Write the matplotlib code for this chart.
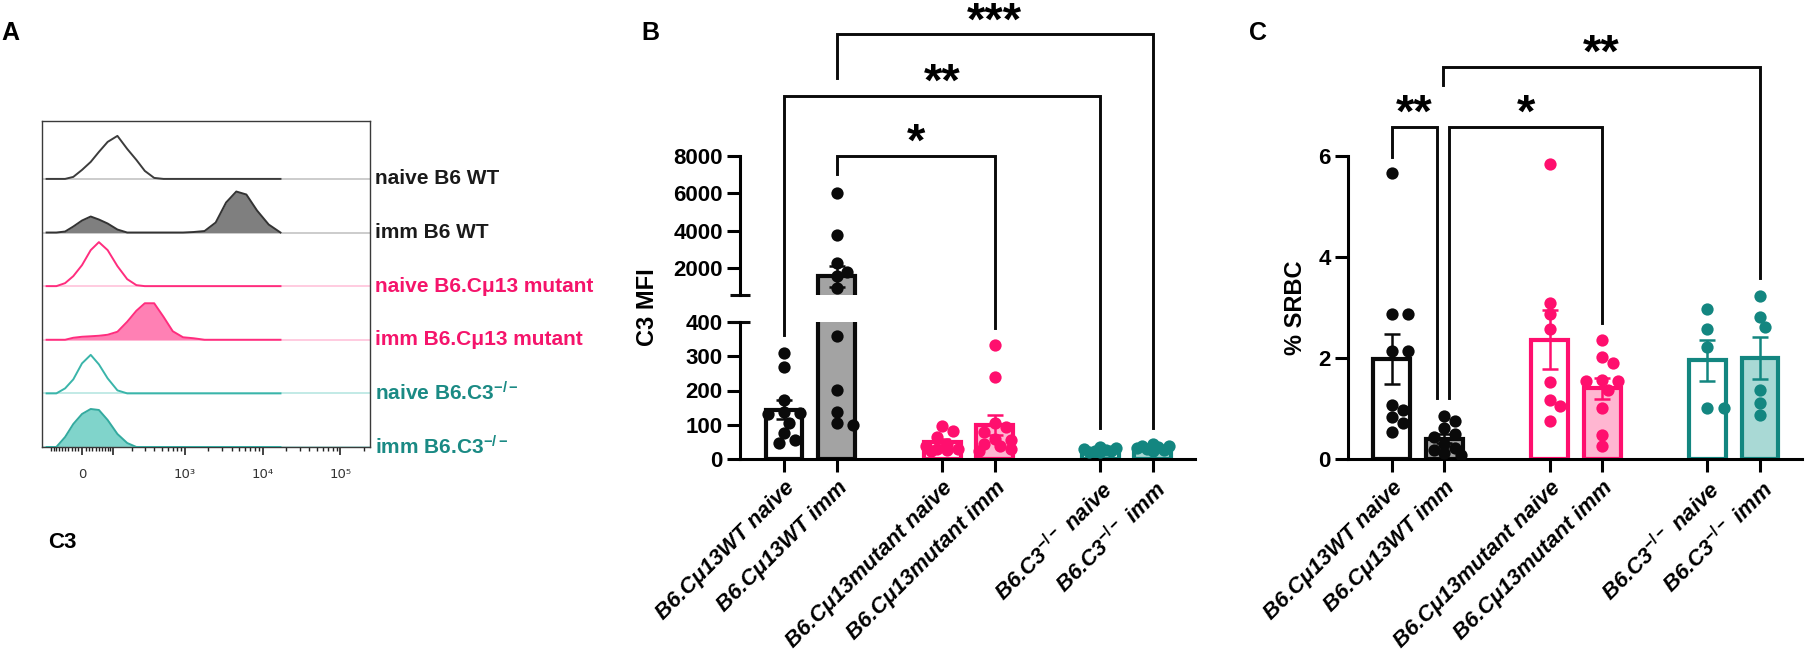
import numpy as np
import matplotlib
matplotlib.use('Agg')
import matplotlib.pyplot as plt
from matplotlib.ticker import FixedLocator

plt.rcParams['font.family'] = ['Liberation Sans', 'DejaVu Sans']
plt.rcParams['font.weight'] = 'bold'
plt.rcParams['mathtext.fontset'] = 'custom'
plt.rcParams['mathtext.rm'] = 'Liberation Sans:bold'
plt.rcParams['mathtext.it'] = 'Liberation Sans:italic:bold'
plt.rcParams['mathtext.bf'] = 'Liberation Sans:bold'

# ---------------- data ----------------
# panel A: flow histograms, C3 intensity bins and counts per sample
hist_bins = [-120, -80, -50, -25, 0, 25, 50, 80, 120, 170, 230, 300, 400, 530,
             700, 950, 1300, 1800, 2500, 3400, 4600, 6200, 8500, 12000, 17000]
cnt_naive_wt = [0, 0, 0, 2, 9, 17, 27, 37, 43, 30, 19, 8, 1, 0,
                0, 0, 0, 0, 0, 0, 0, 0, 0, 0, 0]
cnt_imm_wt = [0, 0, 1, 6, 12, 16, 13, 9, 3, 0, 0, 0, 0, 0,
              0, 0, 0.5, 1.5, 10, 30, 41, 38, 22, 8, 0]
cnt_naive_mut = [0, 0, 3, 10, 21, 36, 44, 36, 20, 7, 1, 0, 0, 0,
                 0, 0, 0, 0, 0, 0, 0, 0, 0, 0, 0]
cnt_imm_mut = [0, 0, 0, 2, 3, 3.5, 4, 5, 8, 18, 29, 36.5, 36.5, 23,
               8.5, 2.5, 1.5, 0, 0, 0, 0, 0, 0, 0, 0]
cnt_naive_c3 = [0, 0, 5, 14, 30, 38.5, 29, 15, 3, 0, 0, 0, 0, 0,
                0, 0, 0, 0, 0, 0, 0, 0, 0, 0, 0]
cnt_imm_c3 = [0, 0, 10, 23, 33, 38, 37, 27, 13, 4, 0, 0, 0, 0,
              0, 0, 0, 0, 0, 0, 0, 0, 0, 0, 0]
hist_names = ['naive B6 WT', 'imm B6 WT', 'naive B6.Cμ13 mutant',
              'imm B6.Cμ13 mutant', r'naive B6.C3$^{\mathrm{-/-}}$',
              r'imm B6.C3$^{\mathrm{-/-}}$']

# panels B, C
groups = ['B6.Cμ13WT naive', 'B6.Cμ13WT imm', 'B6.Cμ13mutant naive',
          'B6.Cμ13mutant imm', r'B6.C3$^{\mathit{-/-}}$ naive',
          r'B6.C3$^{\mathit{-/-}}$ imm']
group_x = [0, 1, 3, 4, 6, 7]

mfi_wt_naive = [310, 268, 172, 137, 135, 133, 105, 76, 55, 48]
mfi_wt_imm = [6040, 3770, 2270, 1820, 1590, 940, 358, 201, 138, 105, 100]
mfi_mut_naive = [97, 82, 65, 45, 40, 30, 30, 28, 25]
mfi_mut_imm = [332, 240, 105, 95, 80, 60, 55, 45, 40, 30, 25]
mfi_c3_naive = [35, 32, 30, 28, 25, 24, 22, 20]
mfi_c3_imm = [45, 40, 38, 35, 32, 30, 28, 25]

srbc_wt_naive = [5.65, 2.87, 2.87, 2.14, 2.14, 1.07, 0.97, 0.84, 0.71, 0.54]
srbc_wt_imm = [0.85, 0.75, 0.62, 0.50, 0.45, 0.30, 0.22, 0.18, 0.12, 0.08]
srbc_mut_naive = [5.83, 3.09, 2.87, 2.58, 1.53, 1.18, 1.05, 0.76]
srbc_mut_imm = [2.35, 2.02, 1.90, 1.57, 1.55, 1.54, 1.36, 1.02, 0.48, 0.26]
srbc_c3_naive = [2.97, 2.58, 2.22, 1.02, 1.01]
srbc_c3_imm = [3.23, 2.81, 2.61, 1.36, 1.11, 0.88]

# significance brackets: (x1, x2, top, leg1 bottom, leg2 bottom, stars)
brackets_b = [(1, 4, 882, 829, 382, '*'),
              (0, 6, 1057, 361, 91, '**'),
              (1, 7, 1235, 1108, 91, '***')]
brackets_c = [(0, 0.86, 6.57, 5.98, 1.21, '**'),
              (1.09, 4.0, 6.57, 1.21, 2.70, '*'),
              (0.98, 7.0, 7.76, 7.40, 3.58, '**')]

# ---------------- styles ----------------
BLACK = '#0a0a0a'
GRAY = '#a3a3a3'
PINK = '#ff0f6e'
PINK_L = '#ffb6d1'
TEAL = '#138680'
TEAL_L = '#a9d9d5'
edge_cols = [BLACK, BLACK, PINK, PINK, TEAL, TEAL]
fill_cols = ['white', GRAY, 'white', PINK_L, 'white', TEAL_L]
label_cols = ['#1a1a1a', '#1a1a1a', '#f5146b', '#f5146b', '#1a8a84', '#1a8a84']
hist_line = ['#3c3c3c', '#333333', '#ff2d7e', '#ff2d7e', '#3ab5aa', '#33aa9f']
hist_fill = [None, '#7f7f7f', None, '#ff80b4', None, '#80d4cb']
hist_base = ['#c4c4c4', '#c4c4c4', '#ffc2da', '#ffc2da', '#b7e6e1', '#b7e6e1']

W, H = 1809, 662
fig = plt.figure(figsize=(W / 100, H / 100), dpi=100)


def px_axes(x0, y0, x1, y1):
    ax = fig.add_axes([x0 / W, 1 - y1 / H, (x1 - x0) / W, (y1 - y0) / H])
    ax.patch.set_visible(False)
    return ax


# ---------------- panel A ----------------
axA = px_axes(42, 121, 370, 447)
axA.set_xscale('asinh', linear_width=96)
axA.set_xlim(-142, 2.4e5)
axA.set_ylim(0, 6.08)
row_px = 53.6
counts_all = [cnt_naive_wt, cnt_imm_wt, cnt_naive_mut, cnt_imm_mut,
              cnt_naive_c3, cnt_imm_c3]
for i, cnt in enumerate(counts_all):
    off = 5 - i
    yy = off + np.array(cnt) / row_px
    axA.axhline(off, color=hist_base[i], lw=1.2, zorder=1)
    if hist_fill[i]:
        axA.fill_between(hist_bins, off, yy, color=hist_fill[i], lw=0, zorder=2)
    axA.plot(hist_bins, yy, color=hist_line[i], lw=1.4, zorder=3)
    axA.text(1.015, off, hist_names[i], transform=axA.get_yaxis_transform(),
             va='center', ha='left', fontsize=15, color=label_cols[i])
for s in axA.spines.values():
    s.set_color('#3a3a3a')
    s.set_linewidth(1.0)
axA.set_yticks([])
axA.set_xticks([0, 1e2, 1e3, 1e4, 1e5])
axA.set_xticklabels(['0', '', '10³', '10⁴', '10⁵'], fontsize=9.5,
                    fontweight='normal', color='#333333', family='DejaVu Sans')
minors = ([-v for v in range(10, 110, 10)] + list(range(10, 100, 10)) +
          list(range(200, 1000, 100)) + list(range(2000, 10000, 1000)) +
          list(range(20000, 100000, 10000)) + [2e5])
axA.xaxis.set_minor_locator(FixedLocator(minors))
axA.tick_params(axis='x', which='major', length=6, width=1.2, color='#222222', pad=9)
axA.tick_params(axis='x', which='minor', length=3, width=1.0, color='#222222')
fig.text(48 / W, 1 - 542 / H, 'C3', ha='left', va='center', fontsize=16)

# ---------------- helpers for B and C ----------------
UNIT_PX = 52.7


def swarm(ax_for, vals, diam=12.0, max_px=16.5):
    # column scatter: touching points are pushed sideways, never wider than the bar
    placed = []
    offs = []
    step = diam * 0.45
    cands = [0]
    for j in range(1, 6):
        cands += [j, -j]
    for v in vals:
        yp = ax_for(v).transData.transform((0, v))[1]
        best, best_d = 0.0, -1.0
        for c in cands:
            xo = c * step
            if abs(xo) > max_px:
                continue
            dmin = min([np.hypot(xo - a, yp - b) for a, b in placed] + [1e9])
            if dmin >= diam * 0.92:
                best = xo
                break
            if dmin > best_d:
                best_d, best = dmin, xo
        placed.append((best, yp))
        offs.append(best / UNIT_PX)
    return np.array(offs)


def style_axis(ax, xaxis=True):
    for k in ['top', 'right']:
        ax.spines[k].set_visible(False)
    ax.spines['left'].set_linewidth(2.2)
    ax.spines['bottom'].set_linewidth(2.2)
    ax.tick_params(axis='y', length=9.5, width=2.2, labelsize=16, pad=3)
    ax.tick_params(axis='x', length=9, width=2.2, labelsize=16, pad=4)
    if not xaxis:
        ax.spines['bottom'].set_visible(False)
        ax.tick_params(axis='x', length=0, labelbottom=False)


def draw_groups(axes, data, ax_for):
    for k, vals in enumerate(data):
        vals = np.array(vals, dtype=float)
        m = vals.mean()
        sem = vals.std(ddof=1) / np.sqrt(len(vals))
        offs = swarm(ax_for, vals)
        for ax in axes:
            lo, hi = ax.get_ylim()
            if m > lo:
                ax.bar(group_x[k], m, width=0.70, color=fill_cols[k],
                       edgecolor=edge_cols[k], linewidth=3, zorder=2)
            keep = np.array([ax_for(v) is ax for v in vals])
            if keep.any():
                ax.scatter(group_x[k] + offs[keep], vals[keep], s=78,
                           color=edge_cols[k], linewidths=0, zorder=3)
        ax_for(m).errorbar(group_x[k], m, yerr=sem, fmt='none', ecolor=edge_cols[k],
                           elinewidth=1.8, capsize=6, capthick=1.8, zorder=4)


# overlay covering the whole figure, in pixels, for the brackets
ov = fig.add_axes([0, 0, 1, 1], zorder=10)
ov.set_xlim(0, W)
ov.set_ylim(0, H)
ov.axis('off')
ov.patch.set_visible(False)


def draw_brackets(ax, brs, fs=34):
    for x1, x2, top, b1, b2, txt in brs:
        pts = ax.transData.transform([(x1, b1), (x1, top), (x2, top), (x2, b2)])
        pts = ov.transData.inverted().transform(pts)
        ov.plot(pts[:, 0], pts[:, 1], color=BLACK, lw=2.1, clip_on=False,
                solid_joinstyle='miter')
        xm = (pts[1, 0] + pts[2, 0]) / 2
        ov.text(xm, pts[1, 1], txt, ha='center', va='baseline', fontsize=fs,
                clip_on=False)


XL = (-0.835, 7.8)

# ---------------- panel B ----------------
axB_lo = px_axes(740, 321.7, 1195, 459.3)
axB_hi = px_axes(740, 156, 1195, 294.7)
axB_lo.set_xlim(*XL)
axB_hi.set_xlim(*XL)
axB_lo.set_ylim(0, 400)
axB_hi.set_ylim(600, 8000)
style_axis(axB_lo)
style_axis(axB_hi, xaxis=False)
axB_lo.set_yticks([0, 100, 200, 300, 400])
axB_hi.set_yticks([2000, 4000, 6000, 8000])
axB_hi.spines['left'].set_bounds(600, 8000)
cap = 10 / UNIT_PX
axB_hi.plot([XL[0] - cap, XL[0] + cap], [600, 600], color=BLACK, lw=2.2,
            clip_on=False, solid_capstyle='butt')
axB_lo.plot([XL[0] - cap, XL[0] + cap], [400, 400], color=BLACK, lw=2.2,
            clip_on=False, solid_capstyle='butt')
axB_lo.set_xticks(group_x)
axB_lo.set_xticklabels(groups, rotation=45, ha='right', va='top',
                       rotation_mode='anchor', fontstyle='italic')
mfi = [mfi_wt_naive, mfi_wt_imm, mfi_mut_naive, mfi_mut_imm, mfi_c3_naive, mfi_c3_imm]
draw_groups([axB_lo, axB_hi], mfi, lambda v: axB_hi if v > 400 else axB_lo)
draw_brackets(axB_lo, brackets_b)
fig.text(647 / W, 1 - 307 / H, 'C3 MFI', rotation=90, ha='center', va='center',
         fontsize=17)

# ---------------- panel C ----------------
axC = px_axes(1348, 155.7, 1802, 459.3)
axC.set_xlim(*XL)
axC.set_ylim(0, 6)
style_axis(axC)
axC.set_yticks([0, 2, 4, 6])
axC.set_xticks(group_x)
axC.set_xticklabels(groups, rotation=45, ha='right', va='top',
                    rotation_mode='anchor', fontstyle='italic')
srbc = [srbc_wt_naive, srbc_wt_imm, srbc_mut_naive, srbc_mut_imm,
        srbc_c3_naive, srbc_c3_imm]
draw_groups([axC], srbc, lambda v: axC)
draw_brackets(axC, brackets_c)
fig.text(1295 / W, 1 - 307.5 / H, '% SRBC', rotation=90, ha='center',
         va='center', fontsize=17)

# panel letters
for lx, lt in [(10, 'A'), (650, 'B'), (1258, 'C')]:
    fig.text(lx / W, 1 - 33 / H, lt, ha='center', va='center', fontsize=18)

fig.savefig('out.png', dpi=100)
